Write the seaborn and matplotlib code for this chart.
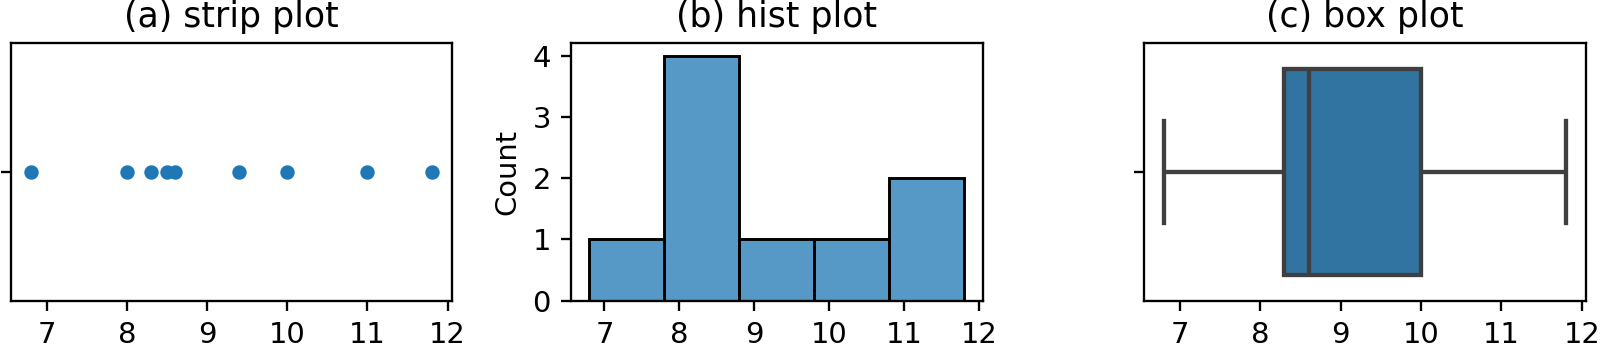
import matplotlib
matplotlib.use("Agg")
import matplotlib.pyplot as plt
from matplotlib.ticker import MultipleLocator
import seaborn as sns
import numpy as np

values = [6.8, 8.0, 8.3, 8.5, 8.6, 9.4, 10.0, 11.0, 11.8]
titles = ["(a) strip plot", "(b) hist plot", "(c) box plot"]
xticks = [7, 8, 9, 10, 11, 12]

k = 1.045
plt.rcParams['font.family'] = ['DejaVu Sans']
plt.rcParams['font.size'] = 10 * k
plt.rcParams['axes.titlesize'] = 12.5
plt.rcParams['axes.linewidth'] = 0.8 * k
plt.rcParams['xtick.major.width'] = 0.8 * k
plt.rcParams['ytick.major.width'] = 0.8 * k
plt.rcParams['xtick.major.size'] = 3.5 * k
plt.rcParams['ytick.major.size'] = 3.5 * k

fig = plt.figure(figsize=(8, 1.755), dpi=200)
bottom, height = 0.1434, 0.7332
ax1 = fig.add_axes([0.00669, bottom, 0.2756, height])
ax2 = fig.add_axes([0.3567, bottom, 0.2575, height])
ax3 = fig.add_axes([0.7148, bottom, 0.2764, height])

sns.stripplot(x=values, ax=ax1, jitter=False, size=5.2, color="#1f77b4")
ax1.set_title(titles[0])

sns.histplot(x=values, bins=5, ax=ax2, color="#1f77b4", edgecolor="black", linewidth=1.05)
ax2.set_title(titles[1])
ax2.set_ylabel("Count")
ax2.yaxis.set_major_locator(MultipleLocator(1))

sns.boxplot(x=values, ax=ax3, color="#1f77b4", linewidth=1.55)
ax3.set_title(titles[2])

for ax in (ax1, ax2, ax3):
    ax.set_xticks(xticks)
    ax.set_xticklabels([str(t) for t in xticks])

fig.savefig("out.png", dpi=200)
